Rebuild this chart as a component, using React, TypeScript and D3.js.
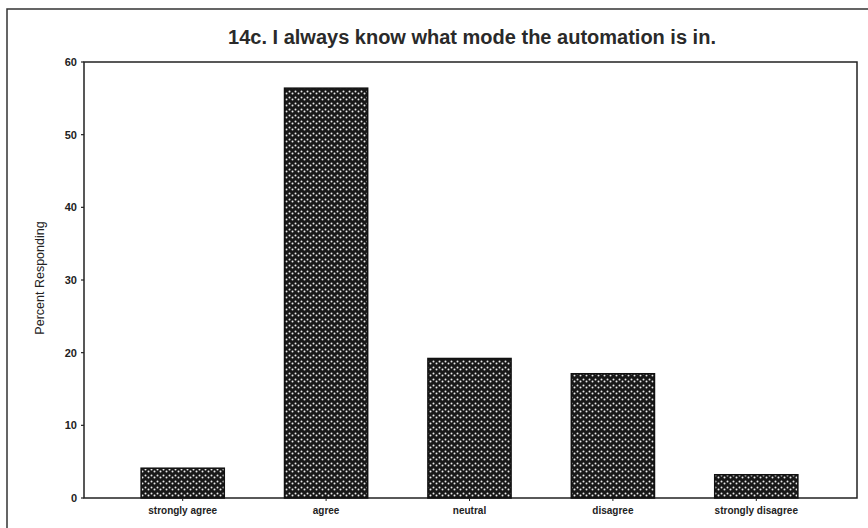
import React from "react";
import * as d3 from "d3";

const categories = ["strongly agree", "agree", "neutral", "disagree", "strongly disagree"];
const values = [4.1, 56.4, 19.2, 17.1, 3.2];
const yTicks = [0, 10, 20, 30, 40, 50, 60];
const title = "14c. I always know what mode the automation is in.";
const yLabel = "Percent Responding";

export default function App() {
  const W = 868, H = 528;
  const plotL = 84, plotR = 857, plotT = 62, plotB = 498;
  const x = d3.scaleBand<string>().domain(categories).range([111, 828]).paddingInner(0.42).paddingOuter(0.21);
  const y = d3.scaleLinear().domain([0, 60]).range([plotB, plotT]);
  const font = "Liberation Sans, Arial, sans-serif";
  return (
    <svg width={W} height={H} style={{ position: "absolute", left: 0, top: 0, background: "#fff" }}>
      <defs>
        <pattern id="zz" width={6} height={6} patternUnits="userSpaceOnUse">
          <rect width={6} height={6} fill="#181818" />
          <circle cx={1.5} cy={1.5} r={1} fill="#eaeaea" />
          <circle cx={4.5} cy={3.5} r={1} fill="#eaeaea" />
        </pattern>
      </defs>
      <rect x={0} y={0} width={W} height={H} fill="#fff" />
      <rect x={7} y={9} width={W + 20} height={H + 20} fill="none" stroke="#333" strokeWidth={1.5} />
      <text x={472} y={44} textAnchor="middle" fontFamily={font} fontSize={20} fontWeight="bold" fill="#2a2a2a">{title}</text>
      <rect x={plotL} y={plotT} width={plotR - plotL} height={plotB - plotT} fill="none" stroke="#222" strokeWidth={1.5} />
      {yTicks.map((t) => (
        <g key={t}>
          <line x1={plotL - 3} x2={plotL} y1={y(t)} y2={y(t)} stroke="#222" strokeWidth={1.2} />
          <text x={plotL - 7} y={y(t)} dy="0.35em" textAnchor="end" fontFamily={font} fontSize={11} fontWeight="bold" fill="#222">{t}</text>
        </g>
      ))}
      <text transform={`translate(44,${(plotT + plotB) / 2 - 2}) rotate(-90)`} textAnchor="middle" fontFamily={font} fontSize={12.5} fill="#222">{yLabel}</text>
      {categories.map((c, i) => (
        <g key={c}>
          <rect x={x(c)} y={y(values[i])} width={x.bandwidth()} height={plotB - y(values[i])} fill="url(#zz)" stroke="#111" strokeWidth={1.5} />
          <line x1={x(c)! + x.bandwidth() / 2} x2={x(c)! + x.bandwidth() / 2} y1={plotB} y2={plotB + 3} stroke="#222" />
          <text x={x(c)! + x.bandwidth() / 2} y={plotB + 16} textAnchor="middle" fontFamily={font} fontSize={10} fontWeight="bold" fill="#222">{c}</text>
        </g>
      ))}
    </svg>
  );
}
